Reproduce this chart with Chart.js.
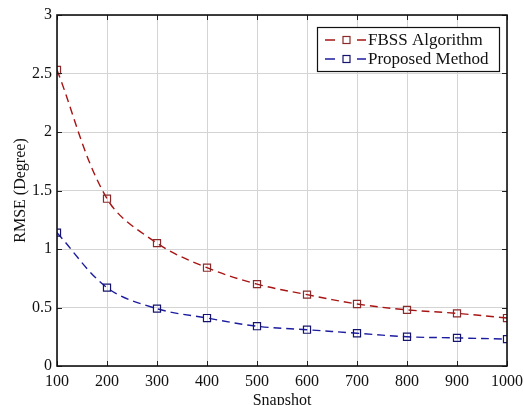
<!DOCTYPE html>
<html>
<head>
<meta charset="utf-8">
<title>RMSE vs Snapshot</title>
<script src="https://cdn.jsdelivr.net/npm/chart.js@4.4.1/dist/chart.umd.min.js"></script>
<style>
    html, body { margin: 0; padding: 0; background: #fff; }
    #wrap { width: 524px; height: 405px; }
</style>
</head>
<body>
<div id="wrap"><canvas id="rmseChart" width="524" height="405"></canvas></div>
<script>
// snapshot counts and RMSE (degrees) for both estimators
const snapshots = [100, 200, 300, 400, 500, 600, 700, 800, 900, 1000];
const fbssRmse = [2.53, 1.43, 1.05, 0.84, 0.70, 0.61, 0.53, 0.48, 0.45, 0.41];
const proposedRmse = [1.14, 0.67, 0.49, 0.41, 0.34, 0.31, 0.28, 0.25, 0.24, 0.23];
const seriesNames = ['FBSS Algorithm', 'Proposed Method'];

const FONT = '"Liberation Serif", "Times New Roman", serif';

function toPoints(ys) {
    return snapshots.map((x, i) => ({ x: x, y: ys[i] }));
}

// MATLAB-style frame: black box with short inward ticks on all four sides
const framePlugin = {
    id: 'frame',
    afterDraw(chart) {
        const { ctx, chartArea: a, scales } = chart;
        const len = 5;
        ctx.save();
        ctx.strokeStyle = '#222';
        ctx.lineWidth = 1;
        ctx.beginPath();
        scales.x.ticks.forEach(t => {
            const px = Math.round(scales.x.getPixelForValue(t.value)) + 0.5;
            ctx.moveTo(px, a.bottom); ctx.lineTo(px, a.bottom - len);
            ctx.moveTo(px, a.top); ctx.lineTo(px, a.top + len);
        });
        scales.y.ticks.forEach(t => {
            const py = Math.round(scales.y.getPixelForValue(t.value)) + 0.5;
            ctx.moveTo(a.left, py); ctx.lineTo(a.left + len, py);
            ctx.moveTo(a.right, py); ctx.lineTo(a.right - len, py);
        });
        ctx.stroke();
        ctx.lineWidth = 1.6;
        ctx.strokeStyle = '#111';
        ctx.strokeRect(a.left, a.top, a.right - a.left, a.bottom - a.top);
        ctx.restore();
    }
};

// boxed legend in the upper right, "- □ -" samples taken from the datasets
const boxLegendPlugin = {
    id: 'boxLegend',
    afterDraw(chart) {
        const { ctx } = chart;
        const boxL = 317, boxT = 27, boxW = 182, boxH = 44;
        ctx.save();
        ctx.fillStyle = '#fff';
        ctx.fillRect(boxL, boxT, boxW, boxH);
        ctx.strokeStyle = '#111';
        ctx.lineWidth = 1.2;
        ctx.strokeRect(boxL + 0.5, boxT + 0.5, boxW, boxH);
        ctx.font = '17px ' + FONT;
        ctx.textBaseline = 'middle';
        chart.data.datasets.forEach((ds, i) => {
            const y = boxT + 13 + i * 19;
            ctx.strokeStyle = ds.borderColor;
            ctx.lineWidth = 1.3;
            ctx.beginPath();
            ctx.moveTo(325, y); ctx.lineTo(335, y);
            ctx.moveTo(357, y); ctx.lineTo(366, y);
            ctx.stroke();
            ctx.strokeStyle = ds.pointBorderColor;
            ctx.lineWidth = 1.2;
            ctx.strokeRect(343, y - 3.5, 7, 7);
            ctx.fillStyle = '#111';
            ctx.fillText(ds.label, 368, y + 1);
        });
        ctx.restore();
    }
};

const ctx = document.getElementById('rmseChart').getContext('2d');

new Chart(ctx, {
    type: 'line',
    data: {
        datasets: [{
            label: seriesNames[0],
            data: toPoints(fbssRmse),
            borderColor: '#a81414',
            pointBorderColor: '#8a2a2a',
            pointBackgroundColor: 'rgba(0,0,0,0)',
            borderWidth: 1.4,
            borderDash: [8, 5],
            pointStyle: 'rect',
            pointRadius: 5,
            pointBorderWidth: 1.2,
            tension: 0.35,
            fill: false
        }, {
            label: seriesNames[1],
            data: toPoints(proposedRmse),
            borderColor: '#1c1ca0',
            pointBorderColor: '#14146e',
            pointBackgroundColor: 'rgba(0,0,0,0)',
            borderWidth: 1.4,
            borderDash: [8, 5],
            pointStyle: 'rect',
            pointRadius: 5,
            pointBorderWidth: 1.2,
            tension: 0.35,
            fill: false
        }]
    },
    options: {
        responsive: false,
        animation: false,
        devicePixelRatio: 1,
        layout: { padding: { left: 0, top: 15, right: 17, bottom: 0 } },
        plugins: {
            legend: { display: false },
            tooltip: { enabled: false }
        },
        scales: {
            x: {
                type: 'linear',
                min: 100,
                max: 1000,
                ticks: {
                    stepSize: 100,
                    color: '#111',
                    font: { family: FONT, size: 16 },
                    padding: 6,
                    maxRotation: 0,
                    callback: v => String(v)
                },
                grid: { color: '#d4d4d4', lineWidth: 1, drawTicks: false },
                border: { display: false },
                title: {
                    display: true,
                    text: 'Snapshot',
                    color: '#111',
                    font: { family: FONT, size: 16, lineHeight: 0.5 },
                    padding: { top: 0, bottom: 0 }
                },
                afterFit(scale) {
                    scale.height = 39;
                    // let the last tick label run to the canvas edge
                    scale.paddingRight = 0;
                }
            },
            y: {
                min: 0,
                max: 3,
                ticks: {
                    stepSize: 0.5,
                    color: '#111',
                    font: { family: FONT, size: 16 },
                    padding: 5,
                    callback: v => String(v)
                },
                grid: { color: '#d4d4d4', lineWidth: 1, drawTicks: false },
                border: { display: false },
                title: {
                    display: true,
                    text: 'RMSE (Degree)',
                    color: '#111',
                    font: { family: FONT, size: 16 },
                    padding: { top: 11, bottom: 0 }
                },
                afterFit(scale) { scale.width = 57; }
            }
        }
    },
    plugins: [framePlugin, boxLegendPlugin]
});
</script>
</body>
</html>
